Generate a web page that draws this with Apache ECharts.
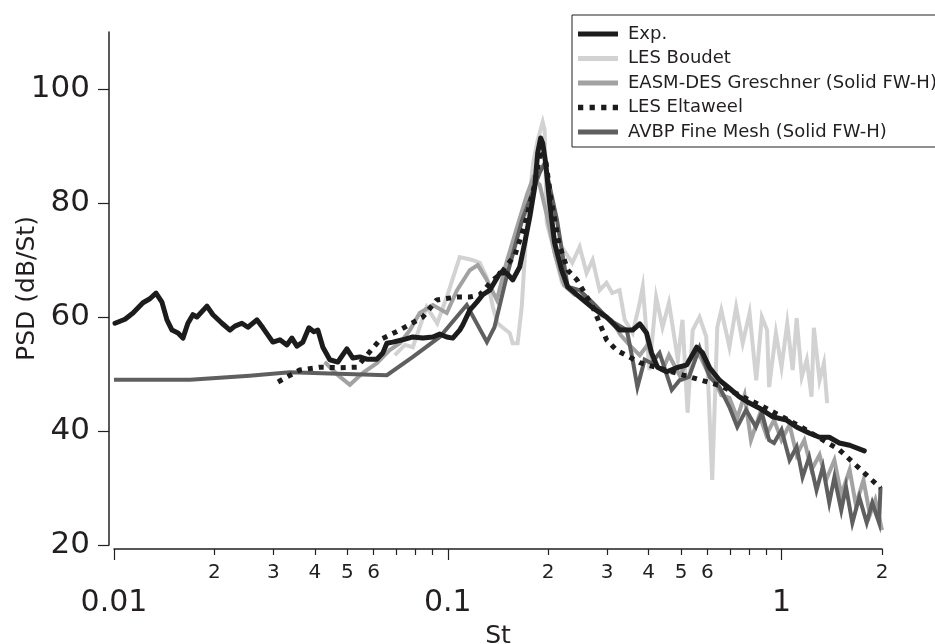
<!DOCTYPE html>
<html>
<head>
<meta charset="utf-8">
<script src="https://cdn.jsdelivr.net/npm/echarts@6/dist/echarts.min.js"></script>
<style>
html,body{margin:0;padding:0;background:#fff;}
#chart{width:935px;height:644px;}
</style>
</head>
<body>
<div id="chart"></div>
<script>
// ---- Data (St, PSD in dB/St) ----
var seriesNames = ['Exp.', 'LES Boudet', 'EASM-DES Greschner (Solid FW-H)', 'LES Eltaweel', 'AVBP Fine Mesh (Solid FW-H)'];

var expSt = [0.01007,0.01079,0.0114,0.01221,0.01281,0.01336,0.01392,0.01441,0.01492,0.01555,
  0.01609,0.01665,0.01723,0.01772,0.01899,0.01979,0.02106,0.02225,0.02303,0.02416,
  0.02519,0.0268,0.02793,0.02992,0.03141,0.03296,0.03412,0.03532,0.03681,0.03836,
  0.03971,0.04082,0.04225,0.04433,0.04685,0.04985,0.05196,0.05452,0.0572,0.0613,
  0.0639,0.0657,0.0684,0.0733,0.0786,0.0842,0.0902,0.0946,0.0993,0.1035,
  0.1086,0.1109,0.1164,0.1222,0.1273,0.1336,0.1403,0.1431,0.1502,0.1565,
  0.1643,0.170,0.176,0.1822,0.186,0.1898,0.1925,0.1965,0.202,0.209,
  0.2195,0.2287,0.2485,0.2717,0.299,0.327,0.358,0.376,0.394,0.408,
  0.425,0.453,0.485,0.520,0.557,0.580,0.609,0.652,0.698,0.748,
  0.802,0.859,0.940,1.035,1.109,1.213,1.30,1.39,1.49,1.60,1.77];
var expPsd = [58.9,59.6,60.7,62.5,63.2,64.2,62.6,59.5,57.7,57.2,
  56.3,58.9,60.4,60.0,61.9,60.4,58.9,57.7,58.4,58.9,
  58.2,59.5,58.1,55.6,56.0,55.1,56.3,54.9,55.6,58.1,
  57.4,57.7,54.7,52.5,52.1,54.4,52.8,53.0,52.6,52.6,
  53.7,55.4,55.6,56.0,56.5,56.3,56.5,57.0,56.5,56.3,
  57.7,58.6,61.2,62.6,63.9,64.7,66.8,67.7,67.7,66.5,
  68.8,73.0,77.5,82.8,88.8,91.4,90.5,87.0,80.0,73.0,
  68.2,65.3,63.5,61.6,60.0,57.7,57.7,58.8,57.2,53.7,
  51.2,50.4,51.1,51.6,54.7,53.7,51.1,48.9,47.5,46.0,
  44.9,44.0,42.5,41.9,40.7,39.6,38.9,38.9,37.9,37.5,36.5];

var boudetSt = [0.0694,0.0744,0.0786,0.0864,0.093,0.0993,0.1086,0.1185,0.1247,0.1307,
  0.1365,0.141,0.1457,0.1533,0.1565,0.1619,0.1666,0.1725,0.1802,0.186,
  0.1925,0.1951,0.198,0.207,0.2164,0.2196,0.2361,0.2484,0.2606,0.2717,
  0.2851,0.299,0.311,0.327,0.339,0.358,0.376,0.384,0.402,0.421,
  0.44,0.46,0.489,0.505,0.523,0.542,0.568,0.595,0.62,0.642,
  0.66,0.698,0.731,0.765,0.802,0.84,0.873,0.905,0.918,0.962,
  1.0,1.04,1.08,1.11,1.15,1.19,1.23,1.25,1.30,1.34,1.37];
var boudetPsd = [53.3,55.1,54.7,61.75,58.9,63.5,70.5,70.0,69.5,67.0,
  61.75,58.9,58.2,57.2,55.4,55.4,61.75,76.5,87.0,91.05,
  94.2,92.8,76.5,72.3,67.7,72.3,69.5,72.3,67.7,70.0,
  64.7,66.0,64.2,64.7,59.5,57.2,62.5,65.3,50.7,63.5,
  58.2,62.5,52.5,59.5,43.2,57.7,60.0,56.5,31.4,58.2,
  61.2,54.7,61.75,55.4,60.7,48.9,60.0,57.7,47.7,57.2,
  51.2,58.9,50.7,59.8,49.5,52.5,46.0,58.1,48.9,51.9,44.9];

var easmSt = [0.0428,0.0469,0.0509,0.0557,0.0613,0.067,0.0718,0.077,0.0824,0.0902,
  0.0993,0.1066,0.1164,0.123,0.131,0.1403,0.150,0.161,0.1725,0.1802,
  0.1885,0.198,0.2096,0.2227,0.240,0.2662,0.2851,0.309,0.33,0.35,
  0.376,0.397,0.417,0.44,0.46,0.495,0.528,0.568,0.6,0.63,
  0.66,0.698,0.737,0.775,0.81,0.859,0.9,0.95,1.0,1.057,
  1.11,1.17,1.23,1.30,1.36,1.44,1.51,1.60,1.67,1.76,
  1.84,1.91,2.0];
var easmPsd = [52.1,49.8,48.1,50.2,51.9,54.2,55.4,57.7,60.7,62.1,
  60.7,64.7,68.2,69.1,66.5,63.0,69.6,75.6,81.4,84.4,
  83.2,77.9,70.9,65.6,63.9,63.0,60.4,59.5,56.8,55.1,
  53.3,55.1,51.6,50.7,53.3,49.8,52.5,53.3,50.4,48.9,
  46.3,45.8,42.3,46.3,38.4,42.8,39.3,41.9,38.4,41.1,
  35.8,38.4,33.2,35.8,31.4,34.9,28.8,33.2,27.0,31.4,
  25.3,27.9,22.6];

var eltSt = [0.031,0.036,0.0414,0.0475,0.0534,0.0626,0.0718,0.0842,0.0927,0.1066,
  0.1164,0.1247,0.1364,0.1431,0.159,0.170,0.182,0.190,0.1965,0.204,
  0.216,0.229,0.244,0.272,0.299,0.320,0.376,0.495,0.652,0.859,
  1.13,1.49,1.98];
var eltPsd = [48.6,50.7,51.2,51.1,51.2,56.0,57.7,60.0,63.0,63.5,
  63.5,63.9,66.5,67.4,70.9,76.1,83.2,89.3,87.5,80.5,
  72.6,68.2,66.5,61.75,56.0,54.2,52.0,50.0,48.0,44.6,
  40.9,36.7,30.0];

var avbpSt = [0.01,0.0169,0.0255,0.0336,0.0443,0.0657,0.0786,0.0946,0.114,0.131,
  0.138,0.150,0.167,0.1885,0.1951,0.2125,0.2287,0.2485,0.2717,0.305,
  0.344,0.358,0.370,0.389,0.408,0.431,0.469,0.495,0.528,0.568,
  0.609,0.652,0.698,0.737,0.783,0.838,0.873,0.918,0.95,1.0,
  1.057,1.11,1.156,1.21,1.273,1.33,1.39,1.44,1.51,1.56,
  1.63,1.71,1.80,1.87,1.96,1.98];
var avbpPsd = [49.0,49.0,49.7,50.3,50.1,49.8,53.0,56.5,62.1,55.6,
  58.2,67.0,77.0,85.3,87.0,77.0,65.3,64.7,62.5,59.5,
  57.7,52.5,47.7,52.5,51.9,53.7,47.2,48.9,49.5,54.6,
  49.5,47.7,44.2,40.7,43.7,40.7,43.2,38.4,37.9,40.2,
  34.9,37.2,31.9,35.4,29.6,33.7,27.4,31.9,26.1,30.2,
  23.9,28.4,23.9,27.4,23.9,30.2];

// ---- Tick values ----
var xMinorTicks = [0.02,0.03,0.04,0.05,0.06,0.07,0.08,0.09,0.2,0.3,0.4,0.5,0.6,0.7,0.8,0.9,2];
var xMinorLabels = [0.02,0.03,0.04,0.05,0.06,0.2,0.3,0.4,0.5,0.6,2];
var xMajorTicks = [0.01,0.1,1];
var yTicks = [20,40,60,80,100];

function pairs(xs, ys){ var out=[]; for(var i=0;i<xs.length;i++){ out.push([xs[i], ys[i]]); } return out; }

var ink = '#231f20';
var font = 'DejaVu Sans';
var chart = echarts.init(document.getElementById('chart'), null, {renderer:'canvas'});

var solidIcon = 'path://M0,0h40v5h-40z';
var dotIcon = 'path://M0,0h5v5h-5z M11,0h5v5h-5z M22,0h5v5h-5z M33,0h5v5h-5z';

chart.setOption({
  animation: false,
  backgroundColor: '#ffffff',
  grid: {left: 114, right: 53, top: 32, bottom: 99, containLabel: false, outerBoundsMode: 'none'},
  legend: {
    orient: 'vertical',
    left: 572, top: 15,
    padding: [10, 10, 6, 6],
    borderColor: ink, borderWidth: 1,
    itemWidth: 40, itemHeight: 14, itemGap: 6.5,
    textStyle: {fontFamily: font, fontSize: 18, color: ink, padding: [0,0,0,5]},
    data: [
      {name: seriesNames[0], icon: solidIcon},
      {name: seriesNames[1], icon: solidIcon},
      {name: seriesNames[2], icon: solidIcon},
      {name: seriesNames[3], icon: dotIcon},
      {name: seriesNames[4], icon: solidIcon}
    ]
  },
  xAxis: [
    {
      type: 'log', logBase: 10, min: 0.01, max: 2, position: 'bottom', offset: 4,
      axisLine: {show: true, lineStyle: {color: ink, width: 1.5}},
      axisTick: {show: true, length: 6, customValues: xMinorTicks, lineStyle: {color: ink, width: 1.2}},
      axisLabel: {show: true, customValues: xMinorLabels, margin: 14, fontFamily: font, fontSize: 20, color: ink,
        formatter: function(v){ var p = Math.pow(10, Math.floor(Math.log10(v) + 1e-9)); return String(Math.round(v / p)); }},
      splitLine: {show: false}, minorTick: {show: false}
    },
    {
      type: 'log', logBase: 10, min: 0.01, max: 2, position: 'bottom', offset: 4,
      axisLine: {show: false},
      axisTick: {show: true, length: 11, customValues: xMajorTicks, lineStyle: {color: ink, width: 1.2}},
      axisLabel: {show: true, customValues: xMajorTicks, margin: 39, fontFamily: font, fontSize: 30, color: ink,
        formatter: function(v){ return String(+v.toPrecision(3)); }},
      splitLine: {show: false},
      name: 'St', nameLocation: 'middle', nameGap: 75, nameMoveOverlap: false,
      nameTextStyle: {fontFamily: font, fontSize: 25, color: ink}
    }
  ],
  yAxis: {
    type: 'value', min: 20, max: 110, offset: 5,
    axisLine: {show: true, lineStyle: {color: ink, width: 1.5}},
    axisTick: {show: true, length: 11, customValues: yTicks, lineStyle: {color: ink, width: 1.2}},
    axisLabel: {show: true, customValues: yTicks, margin: 19, fontFamily: font, fontSize: 31, color: ink},
    splitLine: {show: false},
    name: 'PSD (dB/St)', nameLocation: 'middle', nameGap: 69, nameMoveOverlap: false,
    nameTextStyle: {fontFamily: font, fontSize: 25, color: ink}
  },
  series: [
    {name: seriesNames[0], type: 'line', data: pairs(expSt, expPsd), symbol: 'none', showSymbol: false, z: 6,
      itemStyle: {color: '#1c1c1c'}, lineStyle: {color: '#1c1c1c', width: 5, join: 'round', cap: 'round'}},
    {name: seriesNames[1], type: 'line', data: pairs(boudetSt, boudetPsd), symbol: 'none', showSymbol: false, z: 2,
      itemStyle: {color: '#d2d2d2'}, lineStyle: {color: '#d2d2d2', width: 4, join: 'miter'}},
    {name: seriesNames[2], type: 'line', data: pairs(easmSt, easmPsd), symbol: 'none', showSymbol: false, z: 3,
      itemStyle: {color: '#a2a2a2'}, lineStyle: {color: '#a2a2a2', width: 4, join: 'miter'}},
    {name: seriesNames[3], type: 'line', data: pairs(eltSt, eltPsd), symbol: 'none', showSymbol: false, z: 5,
      itemStyle: {color: '#1c1c1c'}, lineStyle: {color: '#1c1c1c', width: 5, type: [5, 6], cap: 'butt'}},
    {name: seriesNames[4], type: 'line', data: pairs(avbpSt, avbpPsd), symbol: 'none', showSymbol: false, z: 4,
      itemStyle: {color: '#5f5f5f'}, lineStyle: {color: '#5f5f5f', width: 4, join: 'miter'}}
  ]
});
</script>
</body>
</html>
